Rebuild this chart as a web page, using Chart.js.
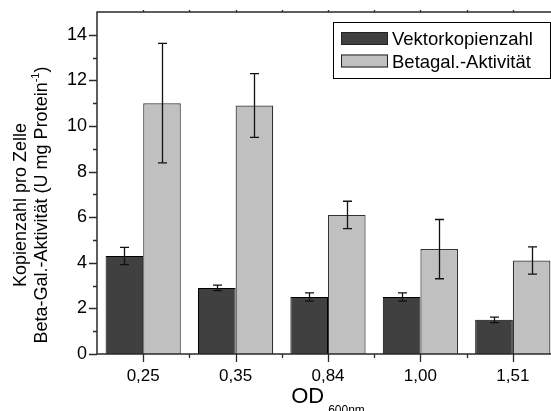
<!DOCTYPE html>
<html>
<head>
<meta charset="utf-8">
<script src="https://cdn.jsdelivr.net/npm/chart.js@4"></script>
<style>
  html, body { margin: 0; padding: 0; background: #fff; overflow: hidden; width: 551px; height: 411px; }
  canvas { display: block; }
</style>
</head>
<body>
<canvas id="c" width="572" height="411"></canvas>
<script>
const categories = ['0,25', '0,35', '0,84', '1,00', '1,51'];
const vektorLabel = 'Vektorkopienzahl';
const vektorValues = [4.3, 2.9, 2.5, 2.5, 1.5];
const vektorErrors = [0.38, 0.12, 0.18, 0.18, 0.12];
const betagalLabel = 'Betagal.-Aktivität';
const betagalValues = [11.0, 10.9, 6.1, 4.6, 4.1];
const betagalErrors = [2.62, 1.4, 0.6, 1.3, 0.6];
const yTickValues = [0, 2, 4, 6, 8, 10, 12, 14];
const yTitleLine1 = 'Kopienzahl pro Zelle';
const yTitleLine2 = 'Beta-Gal.-Aktivität (U mg Protein';
const yTitleSup = '-1';
const xTitleMain = 'OD';
const xTitleSub = '600nm';

const FONT = '"Liberation Sans", Arial, sans-serif';
const PLOT_LEFT = 97, PLOT_RIGHT = 559, PLOT_TOP = 12, PLOT_BOTTOM = 354;
const CANVAS_W = 572, CANVAS_H = 411;

const errorSets = [vektorErrors, betagalErrors];

const framePlugin = {
  id: 'frameAndExtras',
  afterDatasetsDraw(chart) {
    const ctx = chart.ctx;
    const y = chart.scales.y;
    ctx.save();
    ctx.strokeStyle = '#111';
    ctx.lineWidth = 1.3;
    chart.data.datasets.forEach((ds, di) => {
      const meta = chart.getDatasetMeta(di);
      const errs = errorSets[di];
      meta.data.forEach((bar, i) => {
        const v = ds.data[i], e = errs[i];
        const yt = y.getPixelForValue(v + e), yb = y.getPixelForValue(v - e);
        const cx = Math.round(bar.x) + 0.5;
        ctx.beginPath();
        ctx.moveTo(cx, yt); ctx.lineTo(cx, yb);
        ctx.moveTo(cx - 4.5, yt); ctx.lineTo(cx + 4.5, yt);
        ctx.moveTo(cx - 4.5, yb); ctx.lineTo(cx + 4.5, yb);
        ctx.stroke();
      });
    });
    ctx.restore();
  },
  afterDraw(chart) {
    const ctx = chart.ctx;
    const a = chart.chartArea;
    const y = chart.scales.y, x = chart.scales.x;
    ctx.save();
    ctx.strokeStyle = '#2a2a2a';
    ctx.lineWidth = 1.5;
    ctx.strokeRect(a.left, a.top, a.right - a.left, a.bottom - a.top);
    ctx.lineWidth = 1.3;
    ctx.beginPath();
    for (let v = y.min; v <= 14; v += 1) {
      const py = Math.round(y.getPixelForValue(v)) + 0.5;
      const len = (v % 2 === 0) ? 8 : 4;
      ctx.moveTo(a.left, py); ctx.lineTo(a.left - len, py);
    }
    const n = categories.length;
    for (let i = 0; i < n; i++) {
      const px = Math.round(x.getPixelForValue(i)) + 0.5;
      ctx.moveTo(px, a.bottom); ctx.lineTo(px, a.bottom + 8);
      ctx.moveTo(px, a.top); ctx.lineTo(px, a.top - 2);
      if (i > 0) {
        const bx = Math.round((x.getPixelForValue(i) + x.getPixelForValue(i - 1)) / 2) + 0.5;
        ctx.moveTo(bx, a.bottom); ctx.lineTo(bx, a.bottom + 4);
        ctx.moveTo(bx, a.top); ctx.lineTo(bx, a.top - 2);
      }
    }
    ctx.stroke();

    ctx.fillStyle = '#000';
    ctx.textBaseline = 'alphabetic';
    ctx.save();
    ctx.translate(0, 205);
    ctx.rotate(-Math.PI / 2);
    ctx.font = '18px ' + FONT;
    ctx.textAlign = 'center';
    ctx.fillText(yTitleLine1, 0, 26);
    const w2 = ctx.measureText(yTitleLine2).width;
    ctx.font = '11px ' + FONT;
    const wsup = ctx.measureText(yTitleSup).width;
    ctx.font = '18px ' + FONT;
    const wclose = ctx.measureText(')').width;
    const total = w2 + wsup + wclose;
    let sx = -total / 2;
    ctx.textAlign = 'left';
    ctx.fillText(yTitleLine2, sx, 47);
    sx += w2;
    ctx.font = '11px ' + FONT;
    ctx.fillText(yTitleSup, sx, 39);
    sx += wsup;
    ctx.font = '18px ' + FONT;
    ctx.fillText(')', sx, 47);
    ctx.restore();

    ctx.font = '22px ' + FONT;
    const wm = ctx.measureText(xTitleMain).width;
    ctx.font = '12px ' + FONT;
    const ws = ctx.measureText(xTitleSub).width;
    const gap = 4;
    const cx = (a.left + a.right) / 2;
    let tx = cx - (wm + gap + ws) / 2;
    ctx.textAlign = 'left';
    ctx.font = '22px ' + FONT;
    ctx.fillText(xTitleMain, tx, 403);
    ctx.font = '12px ' + FONT;
    ctx.fillText(xTitleSub, tx + wm + gap, 414);

    const lx = 333, ly = 22, lw = 217, lh = 56;
    ctx.fillStyle = '#fff';
    ctx.fillRect(lx, ly, lw, lh);
    ctx.strokeStyle = '#000';
    ctx.lineWidth = 1;
    ctx.strokeRect(lx + 0.5, ly + 0.5, lw, lh);
    chart.data.datasets.forEach((ds, i) => {
      const ry = 32 + i * 22.5;
      ctx.fillStyle = ds.backgroundColor;
      ctx.fillRect(341, ry, 47, 13);
      ctx.strokeStyle = '#222';
      ctx.strokeRect(341.5, ry + 0.5, 46, 12);
      ctx.fillStyle = '#000';
      ctx.font = '18.5px ' + FONT;
      ctx.fillText(ds.label, 392, ry + 13);
    });
    ctx.restore();
  }
};

new Chart(document.getElementById('c'), {
  type: 'bar',
  data: {
    labels: categories,
    datasets: [
      { label: vektorLabel, data: vektorValues, backgroundColor: '#404040', borderColor: '#000', borderWidth: 1 },
      { label: betagalLabel, data: betagalValues, backgroundColor: '#c0c0c0', borderColor: '#333', borderWidth: 1.2 }
    ]
  },
  options: {
    responsive: false,
    animation: false,
    devicePixelRatio: 1,
    layout: { padding: { left: 0, top: PLOT_TOP, right: CANVAS_W - PLOT_RIGHT, bottom: 0 } },
    datasets: { bar: { categoryPercentage: 0.814, barPercentage: 1.0 } },
    plugins: { legend: { display: false }, tooltip: { enabled: false } },
    scales: {
      x: {
        grid: { display: false, drawTicks: false },
        border: { display: false },
        ticks: { color: '#000', font: { family: FONT, size: 17 }, padding: 12, maxRotation: 0, autoSkip: false },
        afterFit(s) {
          s.height = CANVAS_H - PLOT_BOTTOM;
          s.paddingLeft = 0; s.paddingRight = 0;
        }
      },
      y: {
        min: 0, max: 15,
        grid: { display: false, drawTicks: false },
        border: { display: false },
        ticks: {
          stepSize: 1,
          color: '#000',
          font: { family: FONT, size: 18 },
          padding: 10,
          callback: (v) => yTickValues.includes(v) ? String(v) : ''
        },
        afterFit(s) {
          s.width = PLOT_LEFT;
          s.paddingTop = 0; s.paddingBottom = 0;
        }
      }
    }
  },
  plugins: [framePlugin]
});
</script>
</body>
</html>
